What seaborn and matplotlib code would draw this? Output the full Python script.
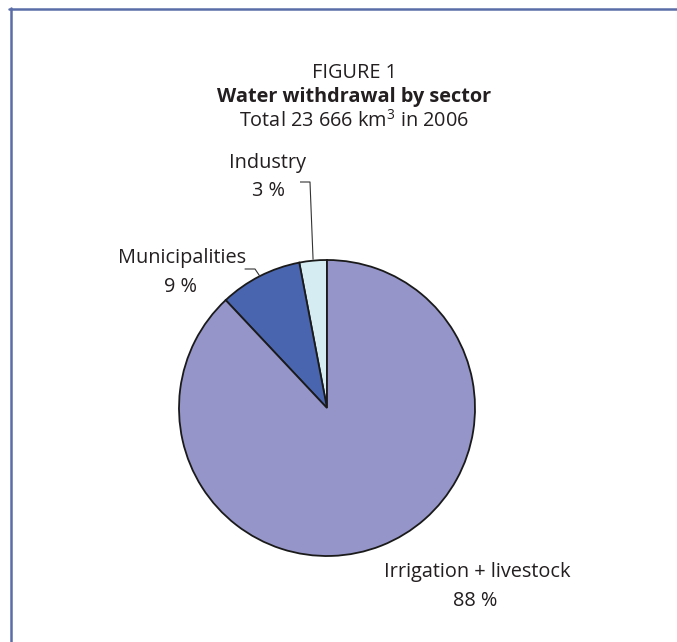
import numpy as np
import matplotlib
matplotlib.use("Agg")
import matplotlib.pyplot as plt
from matplotlib.lines import Line2D
import seaborn as sns

# Water withdrawal shares by sector (percent)
sectors = ["Irrigation + livestock", "Municipalities", "Industry"]
shares = [88, 9, 3]
colors = ["#9595C9", "#4A65AF", "#D5ECF3"]

title_top = "FIGURE 1"
title_main = "Water withdrawal by sector"
title_sub = r"Total 23 666 km$^{3}$ in 2006"

sns.set_theme(style="white")
plt.rcParams["font.family"] = ["Open Sans", "DejaVu Sans"]
plt.rcParams["mathtext.fontset"] = "custom"
plt.rcParams["mathtext.rm"] = "Open Sans"
plt.rcParams["mathtext.it"] = "Open Sans"
plt.rcParams["mathtext.default"] = "regular"
TXT = "#231F20"

W, H = 677, 642
fig = plt.figure(figsize=(W / 100, H / 100), dpi=100)
ax = fig.add_axes([0, 0, 1, 1])

# pie laid out in pixel-like data units (y upwards)
cx, cy, R = 327, H - 408, 148
# order counter-clockwise from the top: Industry, Municipalities, Irrigation
order = [2, 1, 0]
vals = [shares[i] for i in order]
cols = [colors[i] for i in order]
wedges, _ = ax.pie(vals, colors=cols, startangle=90, counterclock=True,
                   center=(cx, cy), radius=R, frame=True,
                   wedgeprops=dict(edgecolor="#1a1a1a", linewidth=1.3))
ax.set_xlim(0, W)
ax.set_ylim(0, H)
ax.set_aspect("equal")
ax.axis("off")
ax.set_position([0, 0, 1, 1])

def mid_point(w):
    a = np.deg2rad((w.theta1 + w.theta2) / 2)
    return cx + R * np.cos(a), cy + R * np.sin(a)

fs = 14.3
lw_lead = 0.8
# Industry label with leader
ind = wedges[0]
ex, ey = mid_point(ind)
ax.text(268, H - 163, sectors[2], ha="center", va="center", fontsize=fs, color=TXT)
ax.text(268, H - 191, f"{shares[2]} %", ha="center", va="center", fontsize=fs, color=TXT)
ax.plot([300, 310, ex], [H - 182, H - 182, ey + 1], color="#333333", lw=lw_lead,
        solid_capstyle="butt")

# Municipalities label with leader
mun = wedges[1]
ex, ey = mid_point(mun)
ax.text(182, H - 258, sectors[1], ha="center", va="center", fontsize=fs, color=TXT)
ax.text(180, H - 287, f"{shares[1]} %", ha="center", va="center", fontsize=fs, color=TXT)
ax.plot([245, 255, ex], [H - 269, H - 269, ey], color="#333333", lw=lw_lead)

# Irrigation label
ax.text(477, H - 572, sectors[0], ha="center", va="center", fontsize=fs, color=TXT)
ax.text(475, H - 601, f"{shares[0]} %", ha="center", va="center", fontsize=fs, color=TXT)

# Titles
ax.text(354, H - 73, title_top, ha="center", va="center", fontsize=fs, color=TXT)
ax.text(354, H - 97, title_main, ha="center", va="center", fontsize=fs,
        fontweight="bold", color=TXT)
ax.text(354, H - 121, title_sub, ha="center", va="center", fontsize=fs, color=TXT)

# frame lines along the top and left edges
fc = "#5B6DA8"
fig.add_artist(Line2D([9 / W, 1], [1 - 8.5 / H, 1 - 8.5 / H], color=fc, lw=1.8,
                      transform=fig.transFigure))
fig.add_artist(Line2D([10.5 / W, 10.5 / W], [0, 1 - 8 / H], color=fc, lw=1.8,
                      transform=fig.transFigure))

fig.savefig("out.png", dpi=100, facecolor="white")
